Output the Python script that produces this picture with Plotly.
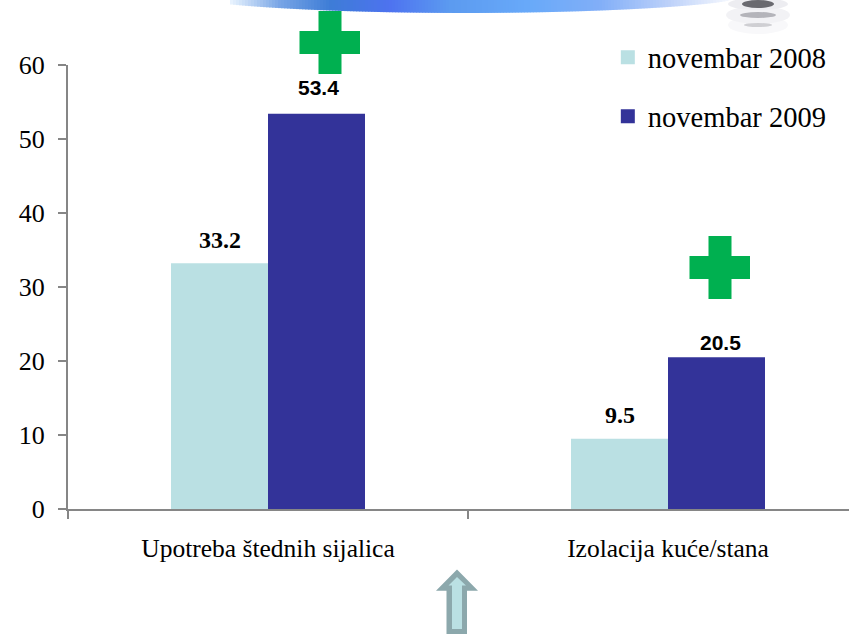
import plotly.graph_objects as go

categories = ["Upotreba štednih sijalica", "Izolacija kuće/stana"]
series_2008 = [33.2, 9.5]
series_2009 = [53.4, 20.5]
series_names = ["novembar 2008", "novembar 2009"]
y_ticks = [0, 10, 20, 30, 40, 50, 60]

W, H = 849, 634
L, R, T, B = 68, 849, 65, 509
SERIF = "Liberation Serif"
SANS = "Liberation Sans"
C1, C2 = "#BAE0E3", "#333399"
AXIS = "#868686"
GREEN = "#00B050"


def px(x):
    return (x - L) / (R - L)


def py(y):
    return (B - y) / (B - T)


def poly(points, fill, layer="above"):
    d = "M" + "L".join(f"{px(x):.5f},{py(y):.5f}" for x, y in points) + "Z"
    return dict(type="path", xref="paper", yref="paper", path=d, fillcolor=fill,
                line=dict(width=0), layer=layer)


def lerp(a, b, t):
    return tuple(a[i] + (b[i] - a[i]) * t for i in range(3))


shapes = []

# Banner remnant at the top edge (decorative gradient arc)
stops = [(230, (235, 245, 255)), (280, (120, 165, 230)), (330, (62, 125, 215)),
         (390, (78, 115, 240)), (450, (92, 155, 240)), (530, (105, 170, 250)),
         (600, (130, 175, 248)), (670, (190, 210, 250)), (740, (255, 255, 255))]
cx, a, b = 465, 265, 13
for x0 in range(230, 740, 3):
    t = (x0 + 1.5 - cx) / a
    yb = b * max(0, 1 - t * t) ** 0.7
    for i in range(len(stops) - 1):
        if stops[i][0] <= x0 + 1.5 <= stops[i + 1][0]:
            f = (x0 + 1.5 - stops[i][0]) / (stops[i + 1][0] - stops[i][0])
            c = lerp(stops[i][1], stops[i + 1][1], f)
            break
    col = "rgb(%d,%d,%d)" % c
    shapes.append(poly([(x0, 0), (x0 + 3.5, 0), (x0 + 3.5, yb), (x0, yb)], col, "below"))

# Coil picture remnant at the top right
for yc, hw, hh, col in [(25, 30, 9, "#F8F8FA"), (15, 32, 9, "#F2F2F5"), (4, 30, 6, "#EDEDF1"),
                        (25, 14, 2, "#CFCFD3"), (15, 18, 3, "#B4B4BA"), (4, 16, 4, "#6A6A70")]:
    shapes.append(dict(type="circle", xref="paper", yref="paper", layer="below",
                       x0=px(758 - hw), x1=px(758 + hw), y0=py(yc + hh), y1=py(yc - hh),
                       fillcolor=col, line=dict(width=0)))

# Green plus signs
for x0, y0 in [(299.5, 11), (689.5, 236)]:
    shapes.append(poly([(x0 + 19, y0), (x0 + 42, y0), (x0 + 42, y0 + 20), (x0 + 60.5, y0 + 20),
                        (x0 + 60.5, y0 + 43), (x0 + 42, y0 + 43), (x0 + 42, y0 + 63), (x0 + 19, y0 + 63),
                        (x0 + 19, y0 + 43), (x0, y0 + 43), (x0, y0 + 20), (x0 + 19, y0 + 20)], GREEN))

# Up arrow below the chart
shapes.append(poly([(457, 569.5), (478, 590.7), (467, 590.7), (467, 634), (446.5, 634),
                    (446.5, 590.7), (436, 590.7)], "#8CA8AC"))
shapes.append(poly([(457, 577), (466, 585.5), (462, 585.5), (462, 629), (452, 629),
                    (452, 585.5), (448.5, 585.5)], C1))

fig = go.Figure()
for name, vals, col in [(series_names[0], series_2008, C1), (series_names[1], series_2009, C2)]:
    # Bars carry the values; a same-group empty trace gives the larger legend swatch
    fig.add_trace(go.Bar(x=categories, y=vals, name=name, legendgroup=name, offsetgroup=name,
                         showlegend=False, marker=dict(color=col, line=dict(width=0))))
    fig.add_trace(go.Bar(x=[None], y=[None], name=name, legendgroup=name, offsetgroup=name,
                         showlegend=True, marker=dict(color=col, line=dict(color=col, width=2))))

annotations = []
# style per label: font, size, x nudge, y shift
label_style = [
    [(SERIF, 24, 0, 23), (SERIF, 24, 0, 24)],
    [(SANS, 21, 2, 26), (SANS, 21, 4, 15)],
]
for s, (vals, off) in enumerate([(series_2008, -48.5), (series_2009, 48.5)]):
    for c, v in enumerate(vals):
        fam, sz, nudge, ys = label_style[s][c]
        annotations.append(dict(x=categories[c], y=v, xref="x", yref="y", text=f"<b>{v}</b>",
                                showarrow=False, xshift=off + nudge, yshift=ys, yanchor="middle",
                                font=dict(family=fam, size=sz, color="black")))

fig.update_layout(
    width=W, height=H, margin=dict(l=L, r=W - R, t=T, b=H - B, pad=0),
    paper_bgcolor="white", plot_bgcolor="white", barmode="group", bargap=0.515, bargroupgap=0,
    shapes=shapes, annotations=annotations, showlegend=True,
    legend=dict(x=0.978, xanchor="right", y=1.074, yanchor="top", tracegroupgap=19, itemwidth=30,
                bgcolor="rgba(0,0,0,0)", font=dict(family=SERIF, size=28.5, color="black")),
    font=dict(family=SERIF, color="black"),
    xaxis=dict(type="category", range=[-0.5, -0.5 + (R - L) / 400], tickson="boundaries", ticks="outside",
               ticklen=8, tickwidth=1.5, tickcolor=AXIS, showline=True, linecolor=AXIS, linewidth=2,
               showgrid=False, zeroline=False, tickfont=dict(family=SERIF, size=25.5), ticklabelstandoff=15),
    yaxis=dict(range=[0, 60], tickvals=y_ticks, ticks="outside", ticklen=8, tickwidth=1.5, tickcolor=AXIS,
               showline=True, linecolor=AXIS, linewidth=2, showgrid=False, zeroline=False,
               tickfont=dict(family=SERIF, size=26), ticklabelstandoff=8),
)
fig.write_html("out.html", config={"displayModeBar": False},
               post_script="document.body.style.margin='0';")
